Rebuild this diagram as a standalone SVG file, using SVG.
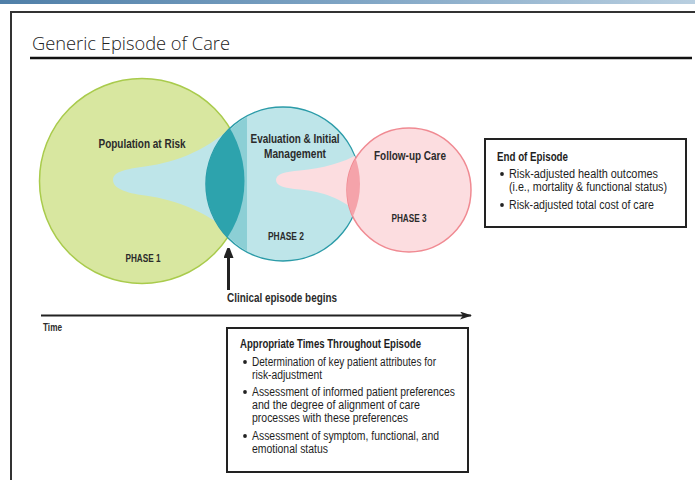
<svg xmlns="http://www.w3.org/2000/svg" width="695" height="480" viewBox="0 0 695 480">
<defs>
<linearGradient id="topbar" x1="0" y1="0" x2="1" y2="0">
<stop offset="0" stop-color="#4f7fa8"/>
<stop offset="0.5" stop-color="#7ea4c4"/>
<stop offset="1" stop-color="#b9cfe0"/>
</linearGradient>
<clipPath id="c1"><circle cx="142" cy="181" r="102.5"/></clipPath>
<clipPath id="c2"><circle cx="283" cy="184" r="77"/></clipPath>
<clipPath id="c2left"><rect x="150" y="100" width="97" height="170"/></clipPath>
<marker id="ah" markerWidth="12" markerHeight="8" refX="11" refY="4" orient="auto" markerUnits="userSpaceOnUse">
<path d="M0,0 L12,4 L0,8 L3,4 Z" fill="#222"/>
</marker>
<marker id="ah2" markerWidth="10" markerHeight="13" refX="9" refY="5" orient="auto" markerUnits="userSpaceOnUse">
<path d="M0,0 L13,5 L0,10 Z" fill="#222"/>
</marker>
</defs>
<style>
.lbl{font-family:"Liberation Sans","Arial",sans-serif;font-weight:bold;fill:#2b2b2b;}
.txt{font-family:"Liberation Sans","Arial",sans-serif;fill:#1e1e1e;font-size:12px;}
.hd{font-family:"Liberation Sans","Arial",sans-serif;font-weight:bold;fill:#1e1e1e;font-size:12px;}
.box{fill:#fff;stroke:#222;stroke-width:2;}
.frame{stroke:#333;stroke-width:2;fill:none;}
</style>

<rect x="0" y="0" width="695" height="4" fill="url(#topbar)"/>
<path class="frame" d="M11,480 L11,12 L695,12"/>
<text x="32" y="50" font-family="'Open Sans','Liberation Sans',sans-serif" font-weight="300" font-size="19" fill="#222" textLength="198" lengthAdjust="spacingAndGlyphs">Generic Episode of Care</text>
<line x1="30" y1="58" x2="692" y2="58" stroke="#111" stroke-width="2.5"/>

<g id="phase1">
<circle cx="142" cy="181" r="102.5" fill="#d8e7a0" stroke="#a9cb4c" stroke-width="1.5"/>
<path d="M113,180 C113,172 125,169 145,166.5 C178,162 208,150 240,120 L240,240 C208,212 178,200 145,195.5 C125,193 113,188 113,180 Z" fill="#bee5e9" clip-path="url(#c1)"/>
<text class="lbl" x="142" y="148" font-size="13" text-anchor="middle" textLength="87" lengthAdjust="spacingAndGlyphs">Population at Risk</text>
<text class="lbl" x="143" y="262" font-size="10.5" text-anchor="middle" textLength="35" lengthAdjust="spacingAndGlyphs">PHASE 1</text>
</g>

<g id="phase2">
<circle cx="283" cy="184" r="77" fill="#bee5e9" stroke="#2b9ba8" stroke-width="1.5"/>
<circle cx="283" cy="184" r="76" fill="#8ccfd5" clip-path="url(#c2left)"/>
<g clip-path="url(#c2)">
<circle cx="142" cy="181" r="102.5" fill="#2da3ad"/>
</g>
<path d="M276,180 C276,174 284,172 300,170.5 C325,168 345,163 365,150 L365,220 C345,199 325,192 300,189.5 C284,188 276,186 276,180 Z" fill="#fcdde0" clip-path="url(#c2)"/>
<text class="lbl" x="295" y="143" font-size="13" text-anchor="middle" textLength="89" lengthAdjust="spacingAndGlyphs">Evaluation &amp; Initial</text>
<text class="lbl" x="295" y="158" font-size="13" text-anchor="middle" textLength="62" lengthAdjust="spacingAndGlyphs">Management</text>
<text class="lbl" x="286" y="240" font-size="10.5" text-anchor="middle" textLength="36" lengthAdjust="spacingAndGlyphs">PHASE 2</text>
</g>

<g id="phase3">
<circle cx="409" cy="190" r="62" fill="#fcdde0" stroke="#f08a92" stroke-width="1.5"/>
<g clip-path="url(#c2)">
<circle cx="409" cy="190" r="62" fill="#f5a3aa"/>
</g>
<text class="lbl" x="410" y="160" font-size="13" text-anchor="middle" textLength="72" lengthAdjust="spacingAndGlyphs">Follow-up Care</text>
<text class="lbl" x="409" y="222" font-size="10.5" text-anchor="middle" textLength="35" lengthAdjust="spacingAndGlyphs">PHASE 3</text>
</g>

<g id="connectors">
<line x1="228.5" y1="290" x2="228.5" y2="249" stroke="#222" stroke-width="3" marker-end="url(#ah2)"/>
<line x1="41" y1="315.5" x2="471" y2="315.5" stroke="#222" stroke-width="2" marker-end="url(#ah)"/>
</g>

<g id="episode-begins">
<text class="lbl" x="227" y="302" font-size="12.5" textLength="110" lengthAdjust="spacingAndGlyphs">Clinical episode begins</text>
</g>
<g id="time">
<text class="lbl" x="43" y="331" font-size="10.5" textLength="19" lengthAdjust="spacingAndGlyphs">Time</text>
</g>

<g id="end-of-episode">
<rect class="box" x="485" y="139" width="201" height="88"/>
<text class="hd" x="497" y="161" textLength="71" lengthAdjust="spacingAndGlyphs">End of Episode</text>
<circle cx="502" cy="174" r="1.9" fill="#222"/>
<text class="txt" x="509" y="178" textLength="149" lengthAdjust="spacingAndGlyphs">Risk-adjusted health outcomes</text>
<text class="txt" x="509" y="191" textLength="158" lengthAdjust="spacingAndGlyphs">(i.e., mortality &amp; functional status)</text>
<circle cx="502" cy="205" r="1.9" fill="#222"/>
<text class="txt" x="509" y="209" textLength="145" lengthAdjust="spacingAndGlyphs">Risk-adjusted total cost of care</text>
</g>

<g id="appropriate-times">
<rect class="box" x="227" y="328" width="241" height="144"/>
<text class="hd" x="240" y="348" textLength="181" lengthAdjust="spacingAndGlyphs">Appropriate Times Throughout Episode</text>
<circle cx="245" cy="362" r="1.9" fill="#222"/>
<text class="txt" x="252" y="366" textLength="184" lengthAdjust="spacingAndGlyphs">Determination of key patient attributes for</text>
<text class="txt" x="252" y="379" textLength="70" lengthAdjust="spacingAndGlyphs">risk-adjustment</text>
<circle cx="245" cy="392" r="1.9" fill="#222"/>
<text class="txt" x="252" y="396" textLength="203" lengthAdjust="spacingAndGlyphs">Assessment of informed patient preferences</text>
<text class="txt" x="252" y="409" textLength="168" lengthAdjust="spacingAndGlyphs">and the degree of alignment of care</text>
<text class="txt" x="252" y="422" textLength="156" lengthAdjust="spacingAndGlyphs">processes with these preferences</text>
<circle cx="245" cy="436" r="1.9" fill="#222"/>
<text class="txt" x="252" y="440" textLength="187" lengthAdjust="spacingAndGlyphs">Assessment of symptom, functional, and</text>
<text class="txt" x="252" y="453" textLength="76" lengthAdjust="spacingAndGlyphs">emotional status</text>
</g>
</svg>
